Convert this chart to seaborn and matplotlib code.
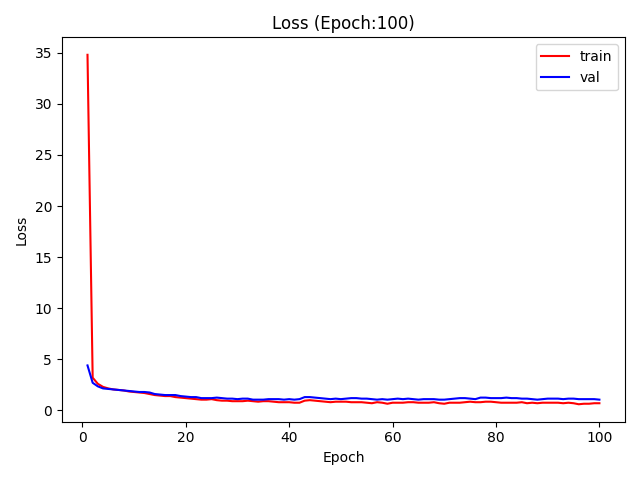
import numpy as np
import pandas as pd
import matplotlib
matplotlib.use("Agg")
import matplotlib.pyplot as plt
import seaborn as sns

# loss values, one per epoch
train_loss = [34.8, 3.2, 2.6, 2.3, 2.15, 2.05, 2.0, 1.95, 1.85, 1.8,
              1.75, 1.7, 1.6, 1.5, 1.45, 1.4, 1.4, 1.3, 1.25, 1.2,
              1.15, 1.1, 1.05, 1.05, 1.1, 1.0, 0.95, 0.95, 0.9, 0.9,
              0.9, 0.95, 0.9, 0.85, 0.9, 0.9, 0.85, 0.8, 0.8, 0.8,
              0.75, 0.75, 0.95, 1.0, 0.95, 0.9, 0.85, 0.8, 0.85, 0.85,
              0.85, 0.8, 0.8, 0.8, 0.75, 0.7, 0.8, 0.75, 0.65, 0.75,
              0.75, 0.75, 0.8, 0.8, 0.75, 0.75, 0.75, 0.8, 0.7, 0.65,
              0.75, 0.75, 0.75, 0.8, 0.85, 0.8, 0.8, 0.85, 0.85, 0.8,
              0.75, 0.75, 0.75, 0.75, 0.8, 0.7, 0.75, 0.7, 0.75, 0.75,
              0.75, 0.75, 0.7, 0.75, 0.7, 0.6, 0.65, 0.65, 0.7, 0.7]
val_loss = [4.4, 2.7, 2.35, 2.15, 2.1, 2.05, 2.0, 1.95, 1.9, 1.85,
            1.8, 1.8, 1.75, 1.6, 1.55, 1.5, 1.5, 1.5, 1.4, 1.35,
            1.3, 1.3, 1.2, 1.2, 1.2, 1.25, 1.2, 1.15, 1.15, 1.1,
            1.15, 1.15, 1.05, 1.05, 1.05, 1.1, 1.1, 1.1, 1.05, 1.1,
            1.05, 1.1, 1.3, 1.3, 1.25, 1.2, 1.15, 1.1, 1.15, 1.1,
            1.15, 1.2, 1.2, 1.15, 1.15, 1.1, 1.05, 1.1, 1.05, 1.1,
            1.15, 1.1, 1.15, 1.1, 1.05, 1.1, 1.1, 1.1, 1.05, 1.05,
            1.1, 1.15, 1.2, 1.2, 1.15, 1.1, 1.25, 1.25, 1.2, 1.2,
            1.2, 1.25, 1.2, 1.2, 1.15, 1.15, 1.1, 1.05, 1.1, 1.15,
            1.15, 1.15, 1.1, 1.15, 1.15, 1.1, 1.1, 1.1, 1.1, 1.05]
epochs = np.arange(1, len(train_loss) + 1)

df = pd.DataFrame({"Epoch": np.concatenate([epochs, epochs]),
                   "Loss": train_loss + val_loss,
                   "set": ["train"] * len(epochs) + ["val"] * len(epochs)})

fig, ax = plt.subplots(figsize=(6.4, 4.8), dpi=100)
sns.lineplot(data=df, x="Epoch", y="Loss", hue="set",
             palette={"train": "red", "val": "blue"}, ax=ax)
ax.legend(loc="upper right")
ax.set_title("Loss (Epoch:100)")
ax.set_xlabel("Epoch")
ax.set_ylabel("Loss")
plt.tight_layout()
plt.savefig("out.png", dpi=100)
plt.close()
